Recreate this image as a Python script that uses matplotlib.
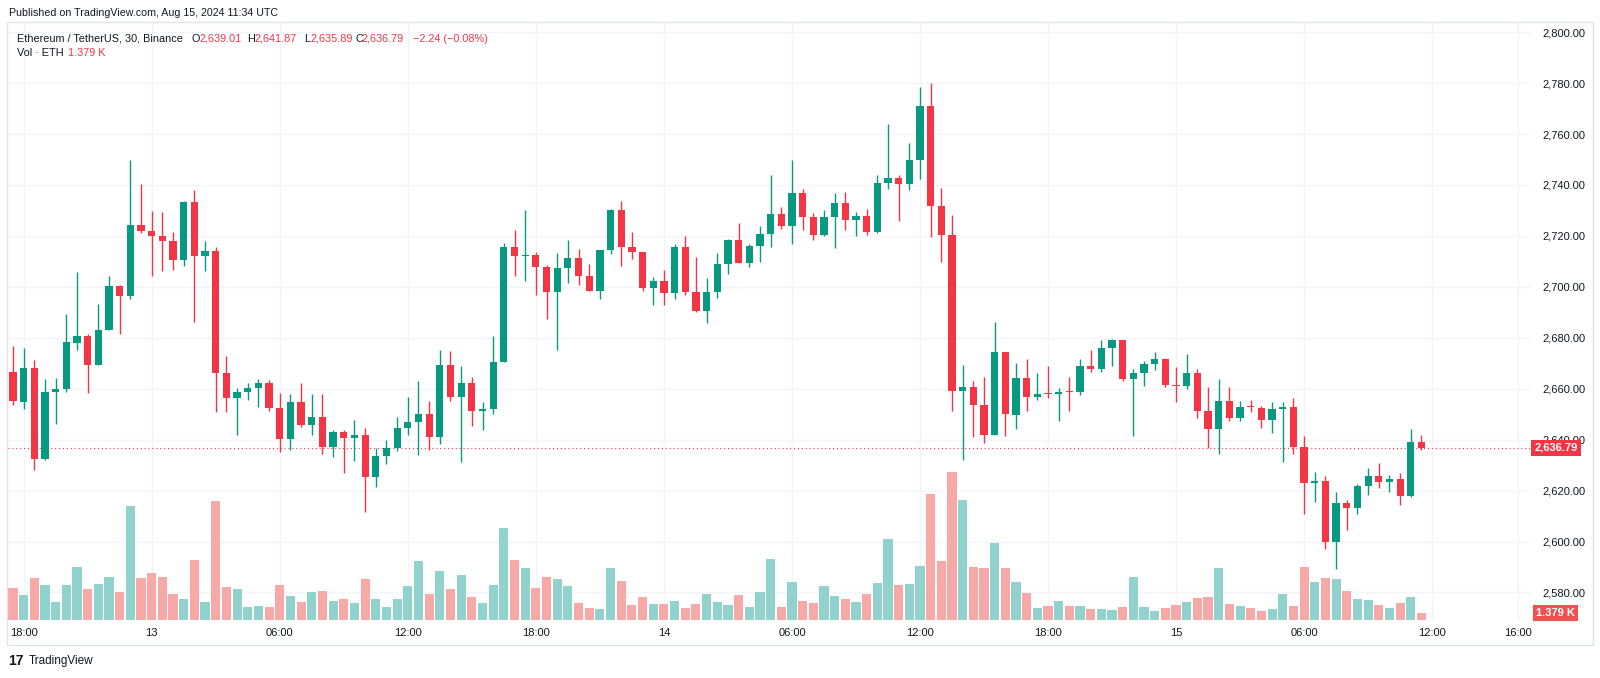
import matplotlib
matplotlib.use("Agg")
import matplotlib.pyplot as plt
import matplotlib.transforms as mtransforms
from matplotlib.patches import Rectangle

# ETH/USDT 30m candles, Aug 12 17:30 -> Aug 15 11:30 (UTC)
opens = [2666.7, 2654.7, 2668.0, 2632.4, 2658.8, 2660.0, 2677.9, 2680.8, 2669.5, 2683.0,
         2700.4, 2696.3, 2724.1, 2721.9, 2719.8, 2718.0, 2710.4, 2733.2, 2712.0, 2714.0,
         2666.3, 2656.4, 2658.8, 2660.3, 2662.4, 2652.4, 2640.3, 2654.6, 2645.6, 2648.9,
         2637.0, 2642.9, 2640.7, 2641.8, 2625.3, 2633.6, 2636.7, 2644.6, 2646.8, 2650.2,
         2640.9, 2669.2, 2656.7, 2662.2, 2651.1, 2652.1, 2670.4, 2715.6, 2712.0, 2712.6,
         2707.8, 2697.8, 2707.4, 2711.3, 2704.1, 2698.4, 2714.6, 2730.0, 2715.7, 2713.6,
         2699.5, 2702.4, 2697.4, 2715.7, 2698.1, 2690.5, 2697.8, 2708.9, 2718.5, 2709.2,
         2716.1, 2720.6, 2728.8, 2723.9, 2736.8, 2727.4, 2720.3, 2727.4, 2732.9, 2726.1,
         2727.8, 2721.7, 2740.7, 2742.7, 2740.3, 2749.9, 2771.2, 2731.7, 2720.3, 2659.2,
         2660.7, 2653.7, 2642.0, 2674.3, 2649.8, 2664.3, 2656.7, 2658.1, 2658.0, 2658.9,
         2658.8, 2668.8, 2667.8, 2676.0, 2679.3, 2663.9, 2666.0, 2669.9, 2671.7, 2661.3,
         2661.1, 2666.0, 2651.1, 2644.2, 2655.0, 2648.5, 2652.8, 2652.4, 2647.7, 2652.2,
         2652.8, 2637.1, 2622.8, 2623.9, 2600.0, 2615.0, 2613.1, 2621.8, 2625.7, 2623.4,
         2624.7, 2617.9, 2639.01]
highs = [2676.8, 2676.0, 2671.4, 2663.7, 2664.3, 2689.5, 2705.7, 2681.6, 2693.2, 2704.3,
         2700.9, 2749.9, 2740.4, 2729.8, 2729.3, 2721.6, 2733.9, 2738.2, 2718.1, 2715.6,
         2672.7, 2660.3, 2662.2, 2664.0, 2663.5, 2658.5, 2657.9, 2662.2, 2658.1, 2658.1,
         2643.9, 2643.9, 2647.8, 2644.6, 2636.9, 2639.9, 2649.0, 2656.8, 2663.2, 2655.0,
         2675.1, 2674.7, 2668.8, 2664.5, 2654.7, 2680.9, 2717.3, 2722.5, 2730.2, 2713.8,
         2708.4, 2713.2, 2718.5, 2715.0, 2708.8, 2714.6, 2730.4, 2733.9, 2721.7, 2713.6,
         2703.7, 2706.8, 2716.8, 2720.0, 2711.8, 2703.3, 2713.2, 2718.9, 2725.2, 2716.8,
         2723.9, 2744.0, 2731.4, 2750.0, 2738.5, 2728.9, 2730.0, 2736.9, 2737.2, 2729.2,
         2730.7, 2744.0, 2763.9, 2744.0, 2756.5, 2778.4, 2780.0, 2739.0, 2728.4, 2669.2,
         2662.9, 2664.7, 2686.1, 2674.3, 2670.0, 2671.8, 2666.0, 2668.8, 2660.2, 2664.5,
         2671.8, 2675.4, 2679.0, 2679.7, 2679.3, 2667.7, 2670.9, 2674.3, 2672.2, 2668.6,
         2673.5, 2667.7, 2660.6, 2663.7, 2660.7, 2655.0, 2655.7, 2653.1, 2654.8, 2654.8,
         2656.3, 2641.5, 2627.5, 2625.8, 2619.3, 2616.3, 2622.5, 2629.0, 2630.8, 2626.2,
         2627.0, 2644.0, 2641.87]
lows = [2653.7, 2651.9, 2627.9, 2632.0, 2646.1, 2658.8, 2675.1, 2658.3, 2669.5, 2683.0,
        2681.6, 2695.2, 2721.1, 2704.3, 2706.1, 2706.5, 2708.1, 2686.2, 2706.1, 2651.0,
        2651.0, 2641.7, 2655.4, 2652.9, 2651.3, 2635.3, 2635.8, 2645.1, 2641.7, 2634.5,
        2633.1, 2627.1, 2631.5, 2611.6, 2621.6, 2630.4, 2635.4, 2641.7, 2634.1, 2635.8,
        2638.4, 2655.3, 2631.3, 2645.5, 2643.8, 2650.2, 2670.4, 2704.1, 2702.2, 2696.8,
        2687.3, 2675.2, 2701.4, 2700.8, 2698.4, 2695.2, 2712.8, 2708.1, 2710.8, 2698.3,
        2693.0, 2693.0, 2695.2, 2696.8, 2690.2, 2686.0, 2695.6, 2705.1, 2709.2, 2707.7,
        2709.8, 2715.5, 2722.7, 2717.0, 2722.2, 2718.4, 2720.0, 2715.2, 2722.2, 2720.0,
        2720.3, 2721.0, 2738.4, 2725.8, 2738.1, 2742.5, 2719.7, 2709.7, 2651.2, 2632.2,
        2641.2, 2638.5, 2642.0, 2641.6, 2644.3, 2651.4, 2655.5, 2656.2, 2647.2, 2651.2,
        2657.6, 2666.6, 2666.6, 2669.1, 2663.2, 2641.6, 2661.1, 2667.4, 2660.8, 2654.9,
        2659.8, 2648.4, 2636.8, 2634.2, 2647.5, 2647.5, 2650.9, 2644.5, 2642.7, 2631.2,
        2634.2, 2611.0, 2615.5, 2596.9, 2589.2, 2604.5, 2610.7, 2618.2, 2621.1, 2619.3,
        2614.2, 2617.5, 2635.89]
closes = [2655.0, 2668.0, 2632.4, 2658.9, 2660.0, 2678.2, 2680.9, 2669.5, 2683.2, 2700.4,
          2696.3, 2724.1, 2722.0, 2719.8, 2718.1, 2710.4, 2733.2, 2712.0, 2714.0, 2666.3,
          2656.4, 2658.8, 2660.3, 2662.4, 2652.4, 2640.3, 2654.6, 2645.6, 2648.9, 2637.0,
          2642.9, 2640.7, 2641.8, 2625.3, 2633.6, 2636.7, 2644.6, 2646.8, 2650.2, 2640.9,
          2669.2, 2656.7, 2662.2, 2651.1, 2652.1, 2670.4, 2715.6, 2712.0, 2712.6, 2707.8,
          2697.8, 2707.4, 2711.3, 2704.1, 2698.4, 2714.6, 2730.0, 2715.7, 2713.6, 2699.5,
          2702.4, 2697.4, 2715.7, 2698.1, 2690.5, 2697.8, 2708.9, 2718.5, 2709.2, 2716.1,
          2720.6, 2728.8, 2723.9, 2736.8, 2727.4, 2720.3, 2727.6, 2732.9, 2726.1, 2727.8,
          2721.7, 2740.7, 2742.7, 2740.3, 2749.9, 2771.2, 2731.7, 2720.3, 2659.2, 2660.7,
          2653.7, 2642.0, 2674.3, 2649.9, 2664.4, 2656.7, 2658.1, 2658.0, 2658.8, 2658.8,
          2668.8, 2667.8, 2676.0, 2679.0, 2663.9, 2666.0, 2669.9, 2671.7, 2661.3, 2661.1,
          2666.0, 2651.1, 2644.2, 2655.0, 2648.5, 2652.8, 2652.7, 2647.7, 2652.2, 2652.8,
          2637.1, 2622.8, 2623.9, 2600.0, 2615.0, 2613.1, 2621.8, 2625.7, 2623.4, 2624.7,
          2617.9, 2639.01, 2636.79]
# volume in thousands of ETH
volumes_k = [6.6, 5.1, 8.6, 7.2, 3.7, 7.2, 11.0, 6.3, 7.4, 8.8, 5.8, 23.5, 8.6, 9.7, 8.9, 5.3, 4.4, 12.3, 3.7,
             24.5, 6.7, 6.4, 2.7, 2.9, 2.7, 7.2, 5.0, 3.7, 5.8, 6.0, 3.9, 4.3, 3.4, 8.4, 4.4, 2.7, 4.3, 6.9,
             12.1, 5.4, 10.1, 6.3, 9.3, 4.8, 3.6, 7.2, 18.9, 12.3, 10.8, 6.5, 8.9, 8.4, 6.9, 3.6, 2.5, 2.2, 10.6,
             8.0, 3.1, 4.8, 3.3, 3.3, 3.9, 2.5, 3.3, 5.3, 3.7, 3.1, 5.1, 2.7, 5.8, 12.5, 2.7, 7.8, 3.9, 3.5,
             7.0, 5.0, 4.4, 3.7, 5.3, 7.6, 16.7, 7.2, 7.4, 11.2, 26.0, 12.1, 30.5, 24.7, 11.0, 10.7, 15.9, 10.7,
             7.8, 5.6, 2.5, 2.9, 4.0, 2.9, 2.9, 2.3, 2.3, 2.1, 2.7, 8.8, 2.7, 1.8, 2.5, 3.1, 3.8, 4.5, 4.7, 10.6,
             3.3, 2.9, 2.5, 1.8, 2.2, 5.3, 2.9, 11.0, 7.8, 8.6, 8.4, 6.0, 4.3, 4.1, 3.1, 2.5, 3.4, 4.7, 1.379]

tick_pos = [1, 13, 25, 37, 49, 61, 73, 85, 97, 109, 121, 133, 141]
tick_labels = ["18:00", "13", "06:00", "12:00", "18:00", "14", "06:00", "12:00",
               "18:00", "15", "06:00", "12:00", "16:00"]
price_ticks = list(range(2580, 2801, 20))
change_text = "\u22122.24 (\u22120.08%)"

UP = "#089981"
DOWN = "#f23645"
VOL_UP = "#92d2cc"
VOL_DOWN = "#f7a9a7"
TXT = "#131722"
FONT = "Liberation Sans"

plt.rcParams['font.family'] = [FONT, 'DejaVu Sans']

W, H = 1600, 678
fig = plt.figure(figsize=(W / 100, H / 100), dpi=100)
fig.patch.set_facecolor("white")

# plot area in pixels
left, right, top, bottom = 8, 1530, 23, 620
rect = [left / W, 1 - bottom / H, (right - left) / W, (bottom - top) / H]
ax = fig.add_axes(rect)
ax.set_xlim(-0.47, 142.17)
ax.set_ylim(2569.2, 2803.6)

# grid
ax.set_xticks(tick_pos, tick_labels)
ax.set_yticks(price_ticks, [f"{p:,.2f}" for p in price_ticks])
ax.grid(True, color="#f2f4f9", lw=1)
ax.set_axisbelow(True)
for s in ax.spines.values():
    s.set_visible(False)

n = len(closes)
for i in range(n):
    o, h, l, c = opens[i], highs[i], lows[i], closes[i]
    col = UP if c >= o else DOWN
    ax.vlines(i, l, h, color=col, lw=1, zorder=3)
    ax.bar(i, max(abs(c - o), 0.4), bottom=min(o, c), width=0.68, color=col, lw=0, zorder=4)

# current price line
ax.axhline(closes[-1], color=DOWN, lw=0.8, ls=(0, (1, 2.5)), zorder=2)

# volume overlay
axv = ax.twinx()
axv.set_ylim(0, (bottom - top) / 4.86)
axv.set_yticks([])
for s in axv.spines.values():
    s.set_visible(False)
vcols = [VOL_UP if closes[i] >= opens[i] else VOL_DOWN for i in range(n)]
axv.bar(range(n), volumes_k, width=0.86, color=vcols, lw=0, zorder=1)

ax.yaxis.tick_right()
ax.tick_params(axis="y", length=0, pad=9, labelsize=8, labelcolor=TXT)
ax.tick_params(axis="x", length=0, pad=6, labelsize=8, labelcolor=TXT)

# price / volume labels on the scale
tr_p = mtransforms.blended_transform_factory(ax.transAxes, ax.transData)
axv.text(1 + 4.5 / (right - left), closes[-1], f"{closes[-1]:,.2f}", transform=tr_p,
         ha="left", va="center", color="white", fontsize=8, fontweight="bold", zorder=10,
         bbox=dict(boxstyle="square,pad=0.3", fc=DOWN, ec="none"))
tr_v = mtransforms.blended_transform_factory(axv.transAxes, axv.transData)
axv.text(1 + 6 / (right - left), volumes_k[-1] + 0.1, f"{volumes_k[-1]:.3f} K", transform=tr_v,
         ha="left", va="center", color="white", fontsize=8, fontweight="bold", zorder=10,
         bbox=dict(boxstyle="square,pad=0.25", fc="#ef5350", ec="none"))

# frame
fig.add_artist(Rectangle((7 / W, 1 - 645 / H), (1593 - 7) / W, (645 - 22) / H,
                         transform=fig.transFigure, fill=False, ec="#e0e3eb", lw=1))

# header
fig.text(9 / W, 1 - 13 / H, "Published on TradingView.com, Aug 15, 2024 11:34 UTC",
         fontsize=7.7, color=TXT, va="center")

# legend line 1
y1 = 1 - 38.5 / H
pieces = [("Ethereum / TetherUS, 30, Binance", 16.7, TXT),
          ("O", 191.5, TXT), (f"{opens[-1]:,.2f}", 199, DOWN),
          ("H", 247.5, TXT), (f"{highs[-1]:,.2f}", 255, DOWN),
          ("L", 304.5, TXT), (f"{lows[-1]:,.2f}", 310.5, DOWN),
          ("C", 355, TXT), (f"{closes[-1]:,.2f}", 362, DOWN),
          (change_text, 413, DOWN)]
for txt, x, col in pieces:
    fig.text(x / W, y1, txt, fontsize=7.8, color=col, va="center")
y2 = 1 - 53.5 / H
fig.text(16.7 / W, y2, "Vol \u00b7 ETH", fontsize=7.8, color=TXT, va="center")
fig.text(68.3 / W, y2, f"{volumes_k[-1]:.3f} K", fontsize=7.8, color=DOWN, va="center")

# footer logo
fig.text(8 / W, 1 - 661 / H, "17", fontsize=10, fontweight="heavy", color=TXT, va="center")
fig.text(29 / W, 1 - 661 / H, "TradingView", fontsize=8.5, color=TXT, va="center")

fig.savefig("out.png", dpi=100, facecolor="white")
